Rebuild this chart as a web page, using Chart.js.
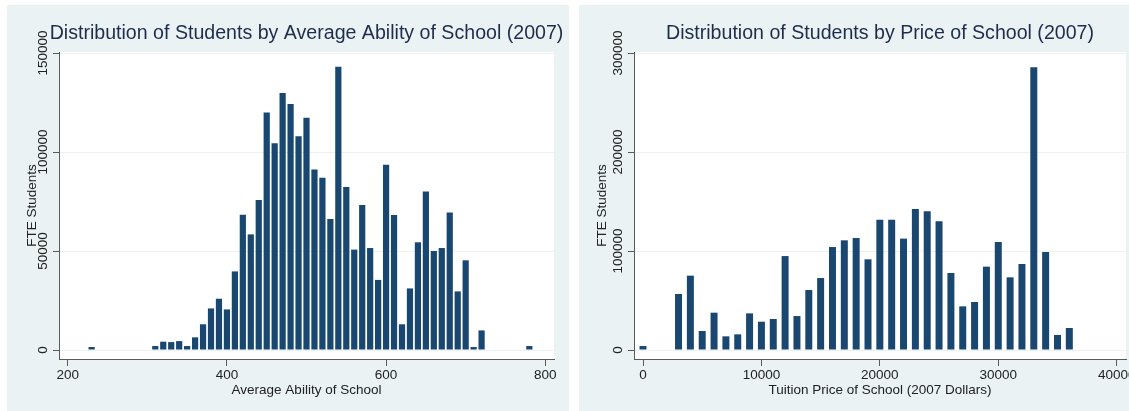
<!DOCTYPE html>
<html>
<head>
<meta charset="utf-8">
<script src="https://cdn.jsdelivr.net/npm/chart.js@4/dist/chart.umd.min.js"></script>
<style>
  html, body { margin: 0; padding: 0; background: #ffffff; width: 1129px; height: 411px; overflow: hidden; }
  .panel { position: absolute; top: 5px; height: 406px; background: #eaf2f3; overflow: hidden; }
  #p1 { left: 7px; width: 562px; }
  #p2 { left: 579px; width: 550px; }
  canvas { position: absolute; left: 0; top: 0; }
</style>
</head>
<body>
<div class="panel" id="p1"><canvas id="c1" width="562" height="406"></canvas></div>
<div class="panel" id="p2"><canvas id="c2" width="590" height="406"></canvas></div>
<script>
// ---- Data ----
const abilityBins = [230, 310, 320, 330, 340, 350, 360, 370, 380, 390, 400, 410, 420, 430, 440, 450, 460, 470, 480, 490, 500, 510, 520, 530, 540, 550, 560, 570, 580, 590, 600, 610, 620, 630, 640, 650, 660, 670, 680, 690, 700, 710, 720, 780];
const abilityFTE = [1500, 2000, 4200, 4000, 4500, 2000, 6400, 13000, 21000, 25900, 20500, 39700, 68300, 58400, 75800, 119900, 104400, 129800, 124200, 107900, 117300, 91200, 87000, 66200, 143100, 82300, 50700, 73200, 51500, 35400, 93600, 68200, 13000, 31100, 54400, 80100, 50000, 51500, 69500, 29600, 45300, 1500, 9900, 2000];
const abilityXTicks = [200, 400, 600, 800];
const abilityYTicks = [0, 50000, 100000, 150000];

const priceBins = [0, 3000, 4000, 5000, 6000, 7000, 8000, 9000, 10000, 11000, 12000, 13000, 14000, 15000, 16000, 17000, 18000, 19000, 20000, 21000, 22000, 23000, 24000, 25000, 26000, 27000, 28000, 29000, 30000, 31000, 32000, 33000, 34000, 35000, 36000];
const priceFTE = [4000, 56600, 75100, 19200, 37700, 13800, 15800, 37000, 28600, 31300, 94900, 34300, 60600, 72700, 104000, 110800, 113100, 91600, 131700, 131700, 112500, 142400, 140100, 130000, 77800, 44100, 48500, 84200, 109100, 73400, 86900, 285500, 99000, 15200, 22200];
const priceXTicks = [0, 10000, 20000, 30000, 40000];
const priceYTicks = [0, 100000, 200000, 300000];

const titles = [
  'Distribution of Students by Average Ability of School (2007)',
  'Distribution of Students by Price of School (2007)'
];
const xTitles = ['Average Ability of School', 'Tuition Price of School (2007 Dollars)'];
const yTitle = 'FTE Students';

// ---- Styling ----
const FONT = '"Liberation Sans", Arial, Helvetica, sans-serif';
const BAR = '#1a476f';
const GRID = '#eaf2f3';
const AXIS = '#5a5a5a';
const TXT = '#222222';
const TITLE = '#1e2d4c';
const TICK_FS = 13.5;

function measure(text, size) {
  const c = document.createElement('canvas').getContext('2d');
  c.font = size + 'px ' + FONT;
  return c.measureText(text).width;
}

const plotBg = {
  id: 'plotBg',
  afterLayout(chart) {
    // let the (plot-centred) title run wider than the plot area without squeezing
    const t = chart.titleBlock;
    if (t) { t.left -= 40; t.right += 40; t.width += 80; }
  },
  beforeDraw(chart) {
    const { ctx, chartArea: a } = chart;
    ctx.save();
    ctx.fillStyle = '#ffffff';
    ctx.fillRect(a.left, a.top, a.right - a.left, a.bottom - a.top);
    ctx.restore();
  }
};

function makeChart(id, cfg) {
  const pts = cfg.bins.map((x, i) => ({ x: x, y: cfg.vals[i] }));
  const widest = Math.max(...cfg.yTicks.map(v => measure(String(v), TICK_FS)));
  const yPad = 16 - 6 - widest / 2;
  return new Chart(document.getElementById(id), {
    type: 'bar',
    data: { datasets: [{ data: pts, backgroundColor: BAR, borderWidth: 0, categoryPercentage: 1, barPercentage: cfg.barPct }] },
    plugins: [plotBg],
    options: {
      responsive: false,
      animation: false,
      events: [],
      layout: { padding: { left: 0, right: cfg.padRight, top: 0, bottom: 0 } },
      plugins: {
        legend: { display: false },
        tooltip: { enabled: false },
        title: {
          display: true, text: cfg.title, fullSize: false, color: TITLE,
          font: { family: FONT, size: 19.6, weight: 'normal', lineHeight: 1.2 },
          padding: { top: 16.7, bottom: 6.8 }
        }
      },
      scales: {
        x: {
          type: 'linear', min: cfg.xMin, max: cfg.xMax, offset: false,
          afterBuildTicks: s => { s.ticks = cfg.xTicks.map(v => ({ value: v })); },
          afterFit: s => { s.height = 52; },
          grid: { offset: false, drawOnChartArea: false, drawTicks: true, tickLength: 7, tickColor: AXIS, tickWidth: 1 },
          border: { display: true, color: AXIS, width: 1 },
          ticks: { color: TXT, font: { family: FONT, size: TICK_FS }, padding: 1, maxRotation: 0, minRotation: 0, autoSkip: false, callback: v => String(v) },
          title: { display: true, text: cfg.xTitle, color: TXT, font: { family: FONT, size: TICK_FS, lineHeight: 1.2 }, padding: { top: 0, bottom: 12.9 } }
        },
        y: {
          type: 'linear', min: cfg.yMin, max: cfg.yMax,
          afterBuildTicks: s => { s.ticks = cfg.yTicks.map(v => ({ value: v })); },
          afterFit: s => { s.width = cfg.yWidth; },
          grid: { color: GRID, lineWidth: 1, drawTicks: true, tickLength: 6, tickColor: AXIS, tickWidth: 1 },
          border: { display: true, color: AXIS, width: 1 },
          ticks: { color: TXT, font: { family: FONT, size: TICK_FS }, padding: yPad, minRotation: 90, maxRotation: 90, crossAlign: 'center', autoSkip: false, callback: v => String(v) },
          title: { display: true, text: yTitle, color: TXT, font: { family: FONT, size: TICK_FS, lineHeight: 1.2 }, padding: { top: cfg.yTitleTop, bottom: 0 } }
        }
      }
    }
  });
}

makeChart('c1', {
  bins: abilityBins, vals: abilityFTE, xTicks: abilityXTicks, yTicks: abilityYTicks,
  title: titles[0], xTitle: xTitles[0],
  xMin: 189, xMax: 811, yMin: -4545, yMax: 150505,
  barPct: 0.78, padRight: 15, yWidth: 52, yTitleTop: 16.9
});
makeChart('c2', {
  bins: priceBins, vals: priceFTE, xTicks: priceXTicks, yTicks: priceYTicks,
  title: titles[1], xTitle: xTitles[1],
  xMin: -760, xMax: 40786, yMin: -9091, yMax: 301010,
  barPct: 0.59, padRight: 43, yWidth: 55, yTitleTop: 14.9
});
</script>
</body>
</html>
